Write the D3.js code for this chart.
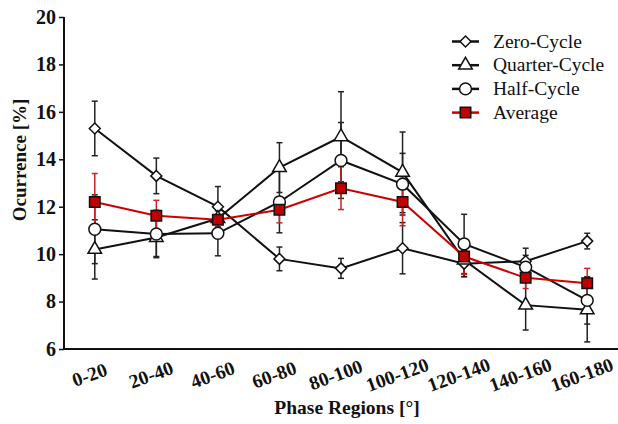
<!doctype html>
<html>
  <head>
    <meta charset="utf-8">
    <title>Ocurrence by phase region</title>
    <script src="https://cdnjs.cloudflare.com/ajax/libs/d3/7.8.5/d3.min.js"></script>
    <style>
      body { margin: 0; background: #fff; }
    </style>
  </head>
  <body>
    <div id="chart"></div>
    <script>
      // data
      const categories = ['0-20', '20-40', '40-60', '60-80', '80-100', '100-120', '120-140', '140-160', '160-180'];
      const yTicks = [6, 8, 10, 12, 14, 16, 18, 20];

      const zeroCycle = [15.3, 13.3, 12.0, 9.8, 9.4, 10.25, 9.6, 9.7, 10.55];
      const zeroErr = [1.15, 0.75, 0.85, 0.5, 0.42, 1.08, 0.55, 0.55, 0.33];
      const quarterCycle = [10.2, 10.7, 11.5, 13.65, 14.95, 13.45, 9.75, 7.85, 7.65];
      const quarterErr = [1.25, 0.8, 0.6, 1.05, 1.9, 1.7, 0.7, 1.05, 1.35];
      const halfCycle = [11.05, 10.85, 10.88, 12.2, 13.95, 12.95, 10.43, 9.45, 8.05];
      const halfErr = [1.45, 1.0, 0.95, 1.3, 1.6, 1.3, 1.25, 0.5, 1.0];
      const average = [12.2, 11.62, 11.45, 11.87, 12.78, 12.2, 9.9, 9.0, 8.77];
      const averageErr = [1.2, 0.65, 0.5, 0.55, 0.9, 1.0, 0.75, 0.45, 0.63];

      const seriesNames = ['Zero-Cycle', 'Quarter-Cycle', 'Half-Cycle', 'Average'];

      const fontFam = '"Liberation Serif"';

      // square turned 45 degrees, closer to the reference diamond than d3.symbolDiamond
      const squareDiamond = {
        draw(context, size) {
          const r = Math.sqrt(size / 2);
          context.moveTo(0, -r);
          context.lineTo(r, 0);
          context.lineTo(0, r);
          context.lineTo(-r, 0);
          context.closePath();
        }
      };

      const series = [
        { name: seriesNames[0], values: zeroCycle, err: zeroErr, symbol: squareDiamond, size: 60, color: '#111', fill: '#fff', errColor: '#222' },
        { name: seriesNames[1], values: quarterCycle, err: quarterErr, symbol: d3.symbolTriangle, size: 80, color: '#111', fill: '#fff', errColor: '#222' },
        { name: seriesNames[2], values: halfCycle, err: halfErr, symbol: d3.symbolCircle, size: 110, color: '#111', fill: '#fff', errColor: '#222' },
        { name: seriesNames[3], values: average, err: averageErr, symbol: d3.symbolSquare, size: 110, color: '#cc0000', fill: '#c00000', errColor: '#d42020' }
      ];

      const width = 618, height = 424;
      const plotLeft = 64, plotRight = 618, plotTop = 17, plotBottom = 349;

      const svg = d3.select('#chart')
        .append('svg')
        .attr('width', width)
        .attr('height', height);

      const x = d3.scalePoint()
        .domain(categories)
        .range([plotLeft, plotRight])
        .padding(0.5);

      const y = d3.scaleLinear()
        .domain([6, 20])
        .range([plotBottom, plotTop]);

      // y axis
      const yAxis = svg.append('g')
        .attr('transform', `translate(${plotLeft},0)`)
        .call(d3.axisLeft(y).tickValues(yTicks).tickSize(5).tickPadding(3).tickFormat(d3.format('d')));
      yAxis.attr('font-family', null).attr('font-size', null);
      yAxis.select('.domain').attr('stroke', '#111').attr('stroke-width', 2).attr('d', `M0,${plotBottom}V${plotTop}`);
      yAxis.selectAll('.tick line').attr('stroke', '#111').attr('stroke-width', 1.5);
      yAxis.selectAll('.tick text')
        .attr('fill', '#111')
        .style('font-family', fontFam)
        .style('font-size', '20px')
        .style('font-weight', 'bold');

      // x axis
      svg.append('line')
        .attr('x1', plotLeft).attr('x2', plotRight)
        .attr('y1', plotBottom).attr('y2', plotBottom)
        .attr('stroke', '#111').attr('stroke-width', 2);

      svg.append('g')
        .selectAll('text')
        .data(categories)
        .join('text')
        .attr('transform', d => `translate(${x(d) - 3},${plotBottom + 32}) rotate(-20)`)
        .attr('text-anchor', 'middle')
        .style('font-family', fontFam)
        .style('font-size', '19.5px')
        .style('font-weight', 'bold')
        .attr('fill', '#111')
        .text(d => d);

      // axis titles
      svg.append('text')
        .attr('x', (plotLeft + plotRight) / 2 + 6)
        .attr('y', 414)
        .attr('text-anchor', 'middle')
        .style('font-family', fontFam)
        .style('font-size', '19.5px')
        .style('font-weight', 'bold')
        .attr('fill', '#111')
        .text('Phase Regions [°]');

      svg.append('text')
        .attr('transform', 'translate(26,160) rotate(-90)')
        .attr('text-anchor', 'middle')
        .style('font-family', fontFam)
        .style('font-size', '19px')
        .style('font-weight', 'bold')
        .attr('fill', '#111')
        .text('Ocurrence [%]');

      const line = d3.line()
        .x((d, i) => x(categories[i]))
        .y(d => y(d));

      // error bars
      const capW = 3;
      series.forEach(s => {
        const g = svg.append('g');
        s.values.forEach((v, i) => {
          const cx = x(categories[i]);
          const y1 = y(v + s.err[i]), y2 = y(v - s.err[i]);
          g.append('line').attr('x1', cx).attr('x2', cx).attr('y1', y1).attr('y2', y2)
            .attr('stroke', s.errColor).attr('stroke-width', 1.5);
          [y1, y2].forEach(yy => {
            g.append('line').attr('x1', cx - capW).attr('x2', cx + capW).attr('y1', yy).attr('y2', yy)
              .attr('stroke', s.errColor).attr('stroke-width', 1.5);
          });
        });
      });

      // lines and markers
      series.forEach(s => {
        svg.append('path')
          .datum(s.values)
          .attr('d', line)
          .attr('fill', 'none')
          .attr('stroke', s.color)
          .attr('stroke-width', 2);

        svg.append('g')
          .selectAll('path')
          .data(s.values)
          .join('path')
          .attr('transform', (d, i) => `translate(${x(categories[i])},${y(d)})`)
          .attr('d', d3.symbol().type(s.symbol).size(s.size))
          .attr('fill', s.fill)
          .attr('stroke', '#111')
          .attr('stroke-width', 1.5);
      });

      // legend
      const legend = svg.append('g');
      series.forEach((s, i) => {
        const ly = 41.5 + i * 23.7;
        legend.append('line')
          .attr('x1', 452).attr('x2', 479)
          .attr('y1', ly).attr('y2', ly)
          .attr('stroke', s.color).attr('stroke-width', 2.5);
        legend.append('path')
          .attr('transform', `translate(465.5,${ly})`)
          .attr('d', d3.symbol().type(s.symbol).size(s.size))
          .attr('fill', s.fill)
          .attr('stroke', '#111')
          .attr('stroke-width', 1.5);
        legend.append('text')
          .attr('x', 493)
          .attr('y', ly + 6)
          .style('font-family', fontFam)
          .style('font-size', '19.5px')
          .attr('fill', '#111')
          .text(s.name);
      });
    </script>
  </body>
</html>
